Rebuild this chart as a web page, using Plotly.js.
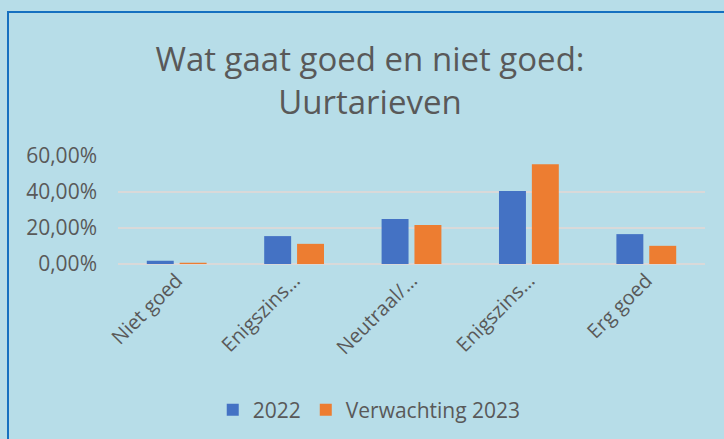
<!DOCTYPE html>
<html>
<head>
<meta charset="utf-8">
<script src="https://cdn.plot.ly/plotly-3.0.1.min.js"></script>
<style>
  html, body { margin: 0; padding: 0; background: #b7dde8; overflow: hidden; }
  #frame { position: absolute; left: 7px; top: 11px; width: 800px; height: 500px;
           border-left: 2px solid #1570c0; border-top: 2px solid #1570c0; box-sizing: border-box; }
  #chart { position: absolute; left: 0; top: 0; width: 724px; height: 439px; }
</style>
</head>
<body>
<div id="frame"></div>
<div id="chart"></div>
<script>
const categories = ["Niet goed", "Enigszins niet goed", "Neutraal/ weet niet", "Enigszins goed", "Erg goed"];
const tickLabels = ["Niet goed", "Enigszins…", "Neutraal/…", "Enigszins…", "Erg goed"];
const series2022 = [0.018, 0.155, 0.250, 0.405, 0.166];
const seriesVerwachting2023 = [0.007, 0.112, 0.217, 0.554, 0.101];
const seriesNames = ["2022", "Verwachting 2023"];

const fontFamily = "'Open Sans', sans-serif";
const textColor = "#595959";

const traces = [
  { type: "bar", name: seriesNames[0], x: categories, y: series2022, marker: { color: "#4472c4" } },
  { type: "bar", name: seriesNames[1], x: categories, y: seriesVerwachting2023, marker: { color: "#ed7d31" } }
];

const layout = {
  width: 724, height: 439,
  paper_bgcolor: "rgba(0,0,0,0)",
  plot_bgcolor: "rgba(0,0,0,0)",
  separators: ",.",
  font: { family: fontFamily, color: textColor, size: 20 },
  margin: { l: 118, r: 19, t: 156, b: 175, pad: 0 },
  title: {
    text: "Wat gaat goed en niet goed:<br>Uurtarieven",
    font: { family: fontFamily, size: 33, color: textColor },
    xref: "container", x: 0.511, xanchor: "center",
    yref: "container", y: 0.838, yanchor: "top"
  },
  barmode: "group",
  bargap: 0.44,
  bargroupgap: 0.18,
  xaxis: {
    tickmode: "array", tickvals: categories, ticktext: tickLabels,
    tickangle: -45, showgrid: false, zeroline: false, showline: false,
    ticks: "", tickfont: { size: 20, color: textColor }
  },
  yaxis: {
    range: [0, 0.6], dtick: 0.2, tickformat: ".2%",
    showgrid: true, gridcolor: "#d9d9d9", gridwidth: 1.5,
    zeroline: true, zerolinecolor: "#d9d9d9", zerolinewidth: 1.5,
    showline: false, ticks: "", ticklabelstandoff: 20,
    tickfont: { size: 21, color: textColor }
  },
  showlegend: true,
  legend: {
    orientation: "h", xref: "container", yref: "container",
    x: 0.51, xanchor: "center", y: 0.066, yanchor: "middle",
    itemwidth: 30,
    font: { size: 21, color: textColor }, bgcolor: "rgba(0,0,0,0)"
  },
  hovermode: false
};

Plotly.newPlot("chart", traces, layout, { displayModeBar: false, staticPlot: true });
</script>
</body>
</html>
